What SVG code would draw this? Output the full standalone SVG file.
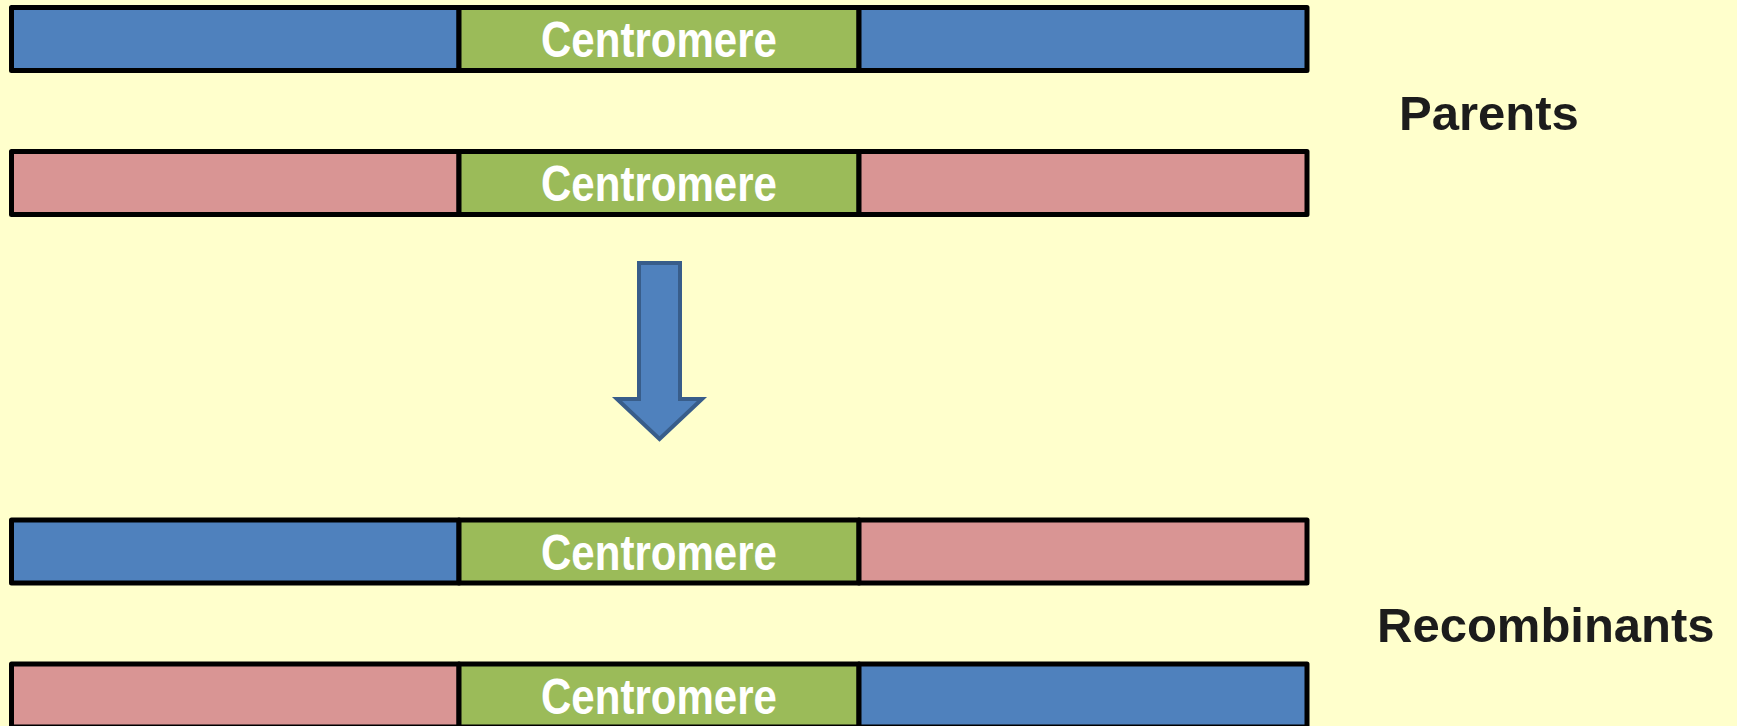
<svg xmlns="http://www.w3.org/2000/svg" width="1737" height="726" viewBox="0 0 1737 726">
<style>
.seg{stroke:#000;stroke-width:5;stroke-linejoin:round}
.blue{fill:#4F81BD}
.pink{fill:#D99594}
.green{fill:#9BBB59}
.cen{font-family:"Liberation Sans",Arial,sans-serif;font-weight:bold;font-size:50px;fill:#fff;text-anchor:middle}
.lbl{font-family:"Liberation Sans",Arial,sans-serif;font-weight:bold;font-size:49px;fill:#1c1c1c}
</style>
<rect x="0" y="0" width="1737" height="726" fill="#FFFFCC"/>
<g id="chrom1">
<rect class="seg blue" x="11.5" y="7.5" width="447.5" height="63"/>
<rect class="seg green" x="459" y="7.5" width="400" height="63"/>
<rect class="seg blue" x="859" y="7.5" width="448" height="63"/>
<text class="cen" x="659" y="57" textLength="236" lengthAdjust="spacingAndGlyphs">Centromere</text>
</g>
<g id="chrom2">
<rect class="seg pink" x="11.5" y="151.5" width="447.5" height="63"/>
<rect class="seg green" x="459" y="151.5" width="400" height="63"/>
<rect class="seg pink" x="859" y="151.5" width="448" height="63"/>
<text class="cen" x="659" y="201" textLength="236" lengthAdjust="spacingAndGlyphs">Centromere</text>
</g>
<g id="chrom3">
<rect class="seg blue" x="11.5" y="520" width="447.5" height="63"/>
<rect class="seg green" x="459" y="520" width="400" height="63"/>
<rect class="seg pink" x="859" y="520" width="448" height="63"/>
<text class="cen" x="659" y="569.5" textLength="236" lengthAdjust="spacingAndGlyphs">Centromere</text>
</g>
<g id="chrom4">
<rect class="seg pink" x="11.5" y="664" width="447.5" height="63"/>
<rect class="seg green" x="459" y="664" width="400" height="63"/>
<rect class="seg blue" x="859" y="664" width="448" height="63"/>
<text class="cen" x="659" y="713.5" textLength="236" lengthAdjust="spacingAndGlyphs">Centromere</text>
</g>
<g id="label-parents">
<text class="lbl" x="1399" y="130">Parents</text>
</g>
<g id="label-recombinants">
<text class="lbl" x="1377" y="642">Recombinants</text>
</g>
<g id="connectors">
<path d="M639,263 L680,263 L680,399 L702,399 L659.5,439 L617,399 L639,399 Z" fill="#4F81BD" stroke="#385D8A" stroke-width="4" stroke-linejoin="miter"/>
</g>
</svg>
